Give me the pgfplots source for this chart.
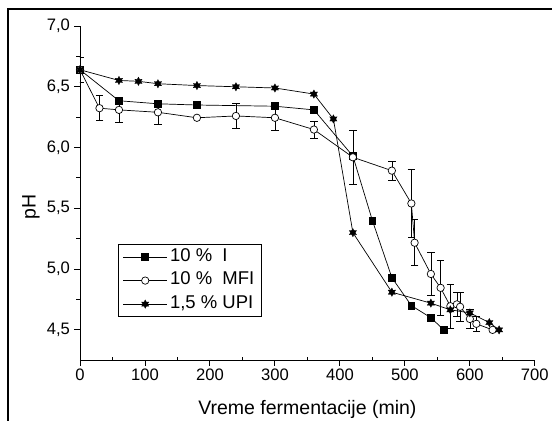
\documentclass[border=0pt]{standalone}
\usepackage{fontspec}
\setmainfont{Liberation Sans}
\usepackage{pgfplots}
\pgfplotsset{compat=1.18}
\usepackage{pgfplotstable}

\pgfdeclareplotmark{hexstar}{%
  \pgfpathmoveto{\pgfpointpolar{90}{\pgfplotmarksize}}%
  \pgfpathlineto{\pgfpointpolar{120}{0.55\pgfplotmarksize}}%
  \pgfpathlineto{\pgfpointpolar{150}{\pgfplotmarksize}}%
  \pgfpathlineto{\pgfpointpolar{180}{0.55\pgfplotmarksize}}%
  \pgfpathlineto{\pgfpointpolar{210}{\pgfplotmarksize}}%
  \pgfpathlineto{\pgfpointpolar{240}{0.55\pgfplotmarksize}}%
  \pgfpathlineto{\pgfpointpolar{270}{\pgfplotmarksize}}%
  \pgfpathlineto{\pgfpointpolar{300}{0.55\pgfplotmarksize}}%
  \pgfpathlineto{\pgfpointpolar{330}{\pgfplotmarksize}}%
  \pgfpathlineto{\pgfpointpolar{0}{0.55\pgfplotmarksize}}%
  \pgfpathlineto{\pgfpointpolar{30}{\pgfplotmarksize}}%
  \pgfpathlineto{\pgfpointpolar{60}{0.55\pgfplotmarksize}}%
  \pgfpathclose
  \pgfusepathqfillstroke
}

\pgfplotstableread{
x y
0 6.64
60 6.385
120 6.36
180 6.35
300 6.34
360 6.31
420 5.93
450 5.40
480 4.93
510 4.70
540 4.60
560 4.50
}\seriesI

\pgfplotstableread{
x y e
0 6.64 0.10
30 6.324 0.104
60 6.31 0.10
120 6.29 0.10
180 6.245 0.0
240 6.26 0.10
300 6.245 0.10
360 6.148 0.07
420 5.92 0.22
480 5.81 0.08
510 5.54 0.28
515 5.217 0.19
540 4.96 0.175
555 4.846 0.23
570 4.695 0.18
580 4.71 0.10
585 4.69 0.12
600 4.59 0.075
610 4.55 0.06
635 4.50 0.0
}\seriesMFI

\pgfplotstableread{
x y
0 6.64
60 6.552
90 6.545
120 6.525
180 6.51
240 6.50
300 6.49
360 6.44
390 6.235
420 5.30
480 4.81
540 4.72
570 4.665
600 4.64
630 4.56
645 4.50
}\seriesUPI

\newcommand{\tfont}{\fontsize{16.6}{19}\selectfont}
\newcommand{\lfont}{\fontsize{19.5}{22}\selectfont}
\newcommand{\gfont}{\fontsize{18.5}{21}\selectfont}

\begin{document}
\begin{tikzpicture}
\begin{axis}[
  at={(0pt,0pt)}, anchor=south west,
  scale only axis, width=455pt, height=334.4pt,
  xmin=0, xmax=700, ymin=4.25, ymax=7,
  axis lines=left, axis line style={-, line width=0.9pt},
  xtick={0,100,...,700}, ytick={4.5,5.0,5.5,6.0,6.5,7.0},
  minor x tick num=1, minor y tick num=1,
  tick align=outside, major tick length=5.5pt, minor tick length=3.5pt,
  tick style={line width=0.9pt, black},
  minor x tick style={yshift=3.5pt},
  /pgf/number format/assume math mode=true,
  yticklabel={\tfont\pgfmathprintnumber[fixed, fixed zerofill, precision=1, use comma]{\tick}},
  xticklabel={\tfont\pgfmathprintnumber[fixed, precision=0]{\tick}},
  yticklabel style={xshift=-1pt},
  legend style={at={(axis cs:58.5,5.207)}, anchor=north west,
    draw=black, line width=0.8pt,
    inner xsep=4.5pt, inner ysep=1pt, row sep=0pt,
    nodes={inner xsep=2.5pt, inner ysep=2.5pt, text height=13.5pt, text depth=5pt}},
  legend cell align=left,
  legend image code/.code={\draw[mark repeat=2,mark phase=2,#1] plot coordinates {(0pt,0pt) (22pt,0pt) (44pt,0pt)};},
]
\addplot[black, line width=0.7pt, mark=square*, mark size=3.4pt, mark options={solid, fill=black}] table[x=x,y=y] {\seriesI};
\addlegendentry{\gfont 10 \%\ \ I}
\addplot[black, line width=0.7pt, mark=*, mark size=3.7pt, mark options={solid, fill=white, draw=black},
  error bars/.cd, y dir=both, y explicit, error bar style={line width=0.7pt, black},
  error mark options={rotate=90, mark size=3.8pt, line width=0.7pt, black}] table[x=x,y=y,y error=e] {\seriesMFI};
\addlegendentry{\gfont 10 \%\ \ MFI}
\addplot[black, line width=0.7pt, mark=hexstar, mark size=4.2pt, mark options={solid, fill=black, line width=0.3pt}] table[x=x,y=y] {\seriesUPI};
\addlegendentry{\gfont 1,5 \% UPI}
\end{axis}
\node[anchor=base, inner sep=0pt, font=\lfont] at (227.5pt,-54.6pt) {Vreme fermentacije (min)};
\node[rotate=90, anchor=center, inner sep=0pt, font=\lfont] at (-49pt,153pt) {pH};
\path[use as bounding box] (-80pt,-60.6pt) rectangle (472pt,360.4pt);
\draw[line width=2pt] (-72pt,-60.6pt) -- (-72pt,351.4pt) -- (472pt,351.4pt);
\end{tikzpicture}
\end{document}
